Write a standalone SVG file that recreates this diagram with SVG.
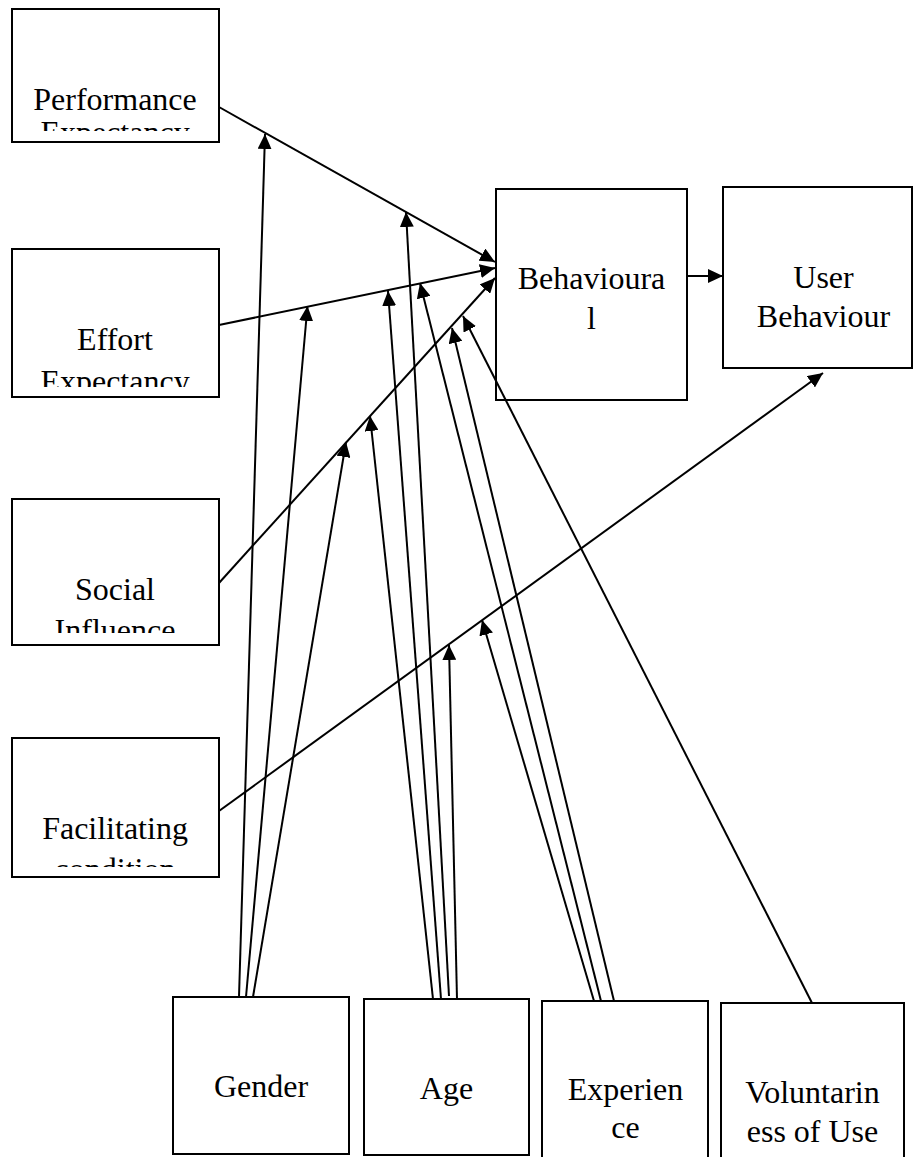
<svg xmlns="http://www.w3.org/2000/svg" width="913" height="1157" viewBox="0 0 913 1157">
<style>
.box{fill:#fff;stroke:#000;stroke-width:2}
.open{fill:none}
.t{font-family:"Liberation Serif","Times New Roman",serif;font-size:32px;fill:#000;text-anchor:middle}
.c{stroke:#000;stroke-width:2;fill:none;marker-end:url(#ah)}
</style>
<defs>
<marker id="ah" markerUnits="userSpaceOnUse" markerWidth="16" markerHeight="14" refX="15" refY="7" orient="auto">
<path d="M0,0 L15,7 L0,14 z" fill="#000"/>
</marker>
<clipPath id="cpPE"><rect x="12" y="9" width="207" height="122"/></clipPath>
<clipPath id="cpEE"><rect x="12" y="249" width="207" height="138"/></clipPath>
<clipPath id="cpSI"><rect x="12" y="499" width="207" height="134"/></clipPath>
<clipPath id="cpFC"><rect x="12" y="738" width="207" height="129"/></clipPath>
</defs>
<rect width="913" height="1157" fill="#fff"/>
<g id="performance">
<rect class="box" x="12" y="9" width="207" height="133"/>
<g clip-path="url(#cpPE)"><text class="t" x="115" y="110">Performance</text><text class="t" x="115" y="143">Expectancy</text></g>
</g>
<g id="effort">
<rect class="box" x="12" y="249" width="207" height="148"/>
<g clip-path="url(#cpEE)"><text class="t" x="115" y="350">Effort</text><text class="t" x="115" y="392">Expectancy</text></g>
</g>
<g id="social">
<rect class="box" x="12" y="499" width="207" height="146"/>
<g clip-path="url(#cpSI)"><text class="t" x="115" y="600">Social</text><text class="t" x="115" y="641">Influence</text></g>
</g>
<g id="facilitating">
<rect class="box" x="12" y="738" width="207" height="139"/>
<g clip-path="url(#cpFC)"><text class="t" x="115" y="839">Facilitating</text><text class="t" x="115" y="880">condition</text></g>
</g>
<g id="behavioural">
<rect class="box open" x="496" y="189" width="191" height="211"/>
<text class="t" x="591.5" y="289">Behavioura</text>
<text class="t" x="591.5" y="329">l</text>
</g>
<g id="userbehaviour">
<rect class="box" x="723" y="187" width="189" height="181"/>
<text class="t" x="823.5" y="288">User</text>
<text class="t" x="823.5" y="327">Behaviour</text>
</g>
<g id="gender">
<rect class="box" x="173" y="997" width="176" height="157"/>
<text class="t" x="261" y="1097">Gender</text>
</g>
<g id="age">
<rect class="box" x="364" y="999" width="165" height="156"/>
<text class="t" x="446.5" y="1099">Age</text>
</g>
<g id="experience">
<rect class="box" x="542" y="1001" width="166" height="162"/>
<text class="t" x="625.5" y="1100">Experien</text>
<text class="t" x="625.5" y="1138">ce</text>
</g>
<g id="voluntariness">
<rect class="box" x="721" y="1003" width="183" height="160"/>
<text class="t" x="812.5" y="1103">Voluntarin</text>
<text class="t" x="812.5" y="1142">ess of Use</text>
</g>
<g id="connectors">
<line class="c" x1="219" y1="107" x2="495" y2="262"/>
<line class="c" x1="219" y1="325" x2="495" y2="268"/>
<line class="c" x1="219" y1="583" x2="495" y2="278"/>
<line class="c" x1="219" y1="811" x2="823" y2="373"/>
<line class="c" x1="687" y1="276" x2="723" y2="276"/>
<line class="c" x1="239" y1="997" x2="265" y2="134"/>
<line class="c" x1="246" y1="997" x2="307.5" y2="306"/>
<line class="c" x1="253" y1="997" x2="346" y2="442"/>
<line class="c" x1="433" y1="999" x2="370" y2="416"/>
<line class="c" x1="441" y1="999" x2="388" y2="291"/>
<line class="c" x1="449" y1="996" x2="406" y2="212"/>
<line class="c" x1="457" y1="999" x2="449" y2="645"/>
<line class="c" x1="594" y1="1001" x2="482" y2="620"/>
<line class="c" x1="601" y1="1001" x2="420" y2="283"/>
<line class="c" x1="614" y1="1001" x2="452" y2="328"/>
<line class="c" x1="812" y1="1003" x2="463" y2="316"/>
</g>
</svg>
